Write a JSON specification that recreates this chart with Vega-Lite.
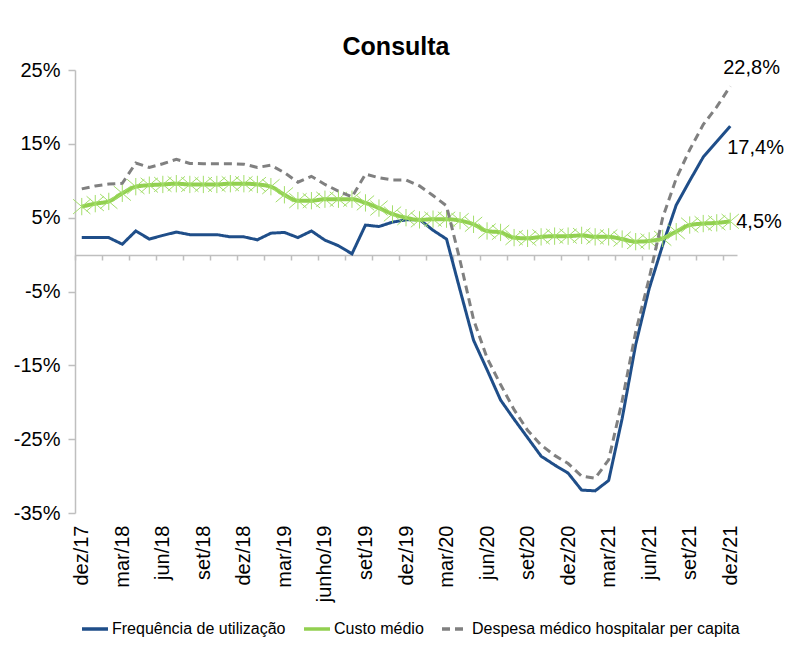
{
  "$schema": "https://vega.github.io/schema/vega-lite/v6.json",
  "autosize": {"type": "none"},
  "width": 662,
  "height": 443,
  "padding": {"left": 75, "top": 70, "right": 48, "bottom": 133},
  "background": "white",
  "config": {
    "font": "Liberation Sans",
    "view": {"stroke": null},
    "axis": {"grid": false}
  },
  "title": {
    "text": "Consulta",
    "font": "Liberation Sans",
    "fontSize": 25,
    "fontWeight": "bold",
    "color": "#000000",
    "anchor": "middle",
    "frame": "group",
    "dx": -10,
    "offset": -2
  },
  "datasets": {
    "freq": [
      {"m":0,"v":2.3},{"m":1,"v":2.3},{"m":2,"v":2.3},{"m":3,"v":1.4},{"m":4,"v":3.2},{"m":5,"v":2.1},{"m":6,"v":2.6},
      {"m":7,"v":3.05},{"m":8,"v":2.7},{"m":9,"v":2.7},{"m":10,"v":2.7},{"m":11,"v":2.4},{"m":12,"v":2.4},{"m":13,"v":2.0},
      {"m":14,"v":2.9},{"m":15,"v":3.0},{"m":16,"v":2.3},{"m":17,"v":3.2},{"m":18,"v":1.95},{"m":19,"v":1.2},{"m":20,"v":0.1},
      {"m":21,"v":4.0},{"m":22,"v":3.8},{"m":23,"v":4.4},{"m":24,"v":4.7},{"m":25,"v":4.75},{"m":26,"v":3.3},{"m":27,"v":2.1},
      {"m":28,"v":-4.8},{"m":29,"v":-11.6},{"m":30,"v":-15.6},{"m":31,"v":-19.7},{"m":32,"v":-22.3},{"m":33,"v":-24.8},{"m":34,"v":-27.3},
      {"m":35,"v":-28.5},{"m":36,"v":-29.6},{"m":37,"v":-31.9},{"m":38,"v":-32.0},{"m":39,"v":-30.6},{"m":40,"v":-22.2},{"m":41,"v":-12.2},
      {"m":42,"v":-4.6},{"m":43,"v":1.3},{"m":44,"v":6.7},{"m":45,"v":10.0},{"m":46,"v":13.2},{"m":47,"v":15.3},{"m":48,"v":17.4}
    ],
    "custo": [
      {"m":0,"v":6.5},{"m":1,"v":6.9},{"m":2,"v":7.2},{"m":3,"v":8.3},{"m":4,"v":9.2},{"m":5,"v":9.4},{"m":6,"v":9.5},
      {"m":7,"v":9.6},{"m":8,"v":9.5},{"m":9,"v":9.5},{"m":10,"v":9.5},{"m":11,"v":9.6},{"m":12,"v":9.6},{"m":13,"v":9.5},
      {"m":14,"v":9.2},{"m":15,"v":8.1},{"m":16,"v":7.3},{"m":17,"v":7.3},{"m":18,"v":7.5},{"m":19,"v":7.5},{"m":20,"v":7.5},
      {"m":21,"v":7.0},{"m":22,"v":6.3},{"m":23,"v":5.5},{"m":24,"v":5.0},{"m":25,"v":4.7},{"m":26,"v":4.8},{"m":27,"v":4.8},
      {"m":28,"v":4.6},{"m":29,"v":4.1},{"m":30,"v":3.2},{"m":31,"v":3.0},{"m":32,"v":2.3},{"m":33,"v":2.2},{"m":34,"v":2.4},
      {"m":35,"v":2.5},{"m":36,"v":2.5},{"m":37,"v":2.6},{"m":38,"v":2.4},{"m":39,"v":2.4},{"m":40,"v":2.1},{"m":41,"v":1.75},
      {"m":42,"v":1.85},{"m":43,"v":2.2},{"m":44,"v":3.1},{"m":45,"v":4.0},{"m":46,"v":4.2},{"m":47,"v":4.3},{"m":48,"v":4.5}
    ],
    "desp": [
      {"m":0,"v":8.9},{"m":1,"v":9.3},{"m":2,"v":9.55},{"m":3,"v":9.65},{"m":4,"v":12.4},{"m":5,"v":11.8},{"m":6,"v":12.3},
      {"m":7,"v":12.9},{"m":8,"v":12.35},{"m":9,"v":12.3},{"m":10,"v":12.3},{"m":11,"v":12.3},{"m":12,"v":12.25},{"m":13,"v":11.8},
      {"m":14,"v":12.1},{"m":15,"v":11.1},{"m":16,"v":9.8},{"m":17,"v":10.6},{"m":18,"v":9.5},{"m":19,"v":8.6},{"m":20,"v":7.8},
      {"m":21,"v":10.9},{"m":22,"v":10.4},{"m":23,"v":10.1},{"m":24,"v":10.1},{"m":25,"v":9.3},{"m":26,"v":8.0},{"m":27,"v":6.6},
      {"m":28,"v":-0.8},{"m":29,"v":-8.8},{"m":30,"v":-14.0},{"m":31,"v":-17.6},{"m":32,"v":-21.0},{"m":33,"v":-23.8},{"m":34,"v":-25.8},
      {"m":35,"v":-27.2},{"m":36,"v":-28.3},{"m":37,"v":-30.0},{"m":38,"v":-30.3},{"m":39,"v":-27.8},{"m":40,"v":-19.8},{"m":41,"v":-10.5},
      {"m":42,"v":-3.2},{"m":43,"v":5.0},{"m":44,"v":10.3},{"m":45,"v":14.2},{"m":46,"v":17.6},{"m":47,"v":20.0},{"m":48,"v":22.8}
    ],
    "ends": [
      {"m":48,"v":22.8,"k":"d","t":"22,8%"},
      {"m":48,"v":17.4,"k":"f","t":"17,4%"},
      {"m":48,"v":4.5,"k":"c","t":"4,5%"}
    ]
  },
  "layer": [
    {
      "data": {"name": "freq"},
      "mark": {"type": "line", "strokeWidth": 3},
      "encoding": {
        "x": {
          "field": "m", "type": "quantitative",
          "scale": {"domain": [-0.5, 48.5], "nice": false, "zero": false},
          "axis": {
            "title": null, "orient": "bottom", "offset": -258,
            "values": [-0.5,1.5,3.5,5.5,7.5,9.5,11.5,13.5,15.5,17.5,19.5,21.5,23.5,25.5,27.5,29.5,31.5,33.5,35.5,37.5,39.5,41.5,43.5,45.5,47.5],
            "labels": false, "ticks": true, "tickSize": 5, "tickColor": "#BFBFBF", "tickWidth": 1.5,
            "domain": true, "domainColor": "#BFBFBF", "domainWidth": 1.5, "grid": false
          }
        },
        "y": {
          "field": "v", "type": "quantitative",
          "scale": {"domain": [-35, 25], "nice": false, "zero": false},
          "axis": {
            "title": null,
            "values": [-35,-25,-15,-5,5,15,25],
            "labelExpr": "datum.value + '%'",
            "labelFont": "Liberation Sans", "labelFontSize": 20, "labelColor": "#000000",
            "labelPadding": 8, "tickSize": 7, "tickColor": "#BFBFBF", "tickWidth": 1.5,
            "domainColor": "#BFBFBF", "domainWidth": 1.5, "grid": false
          }
        },
        "color": {
          "datum": "Frequência de utilização",
          "scale": {
            "domain": ["Frequência de utilização", "Custo médio", "Despesa médico hospitalar per capita"],
            "range": ["#1F4E89", "#92D050", "#808080"]
          },
          "legend": {
            "title": null, "orient": "none", "legendX": 5, "legendY": 544, "direction": "horizontal",
            "symbolType": "stroke", "symbolSize": 676, "symbolStrokeWidth": 3.5,
            "labelFont": "Liberation Sans", "labelFontSize": 16, "labelColor": "#000000",
            "labelOffset": 2, "columnPadding": 11, "labelLimit": 400
          }
        },
        "strokeDash": {
          "datum": "Frequência de utilização",
          "scale": {
            "domain": ["Frequência de utilização", "Custo médio", "Despesa médico hospitalar per capita"],
            "range": [[1, 0], [1, 0], [8, 5]]
          },
          "legend": {
            "title": null, "orient": "none", "legendX": 5, "legendY": 544, "direction": "horizontal",
            "symbolType": "stroke", "symbolSize": 676, "symbolStrokeWidth": 3.5,
            "labelFont": "Liberation Sans", "labelFontSize": 16, "labelColor": "#000000",
            "labelOffset": 2, "columnPadding": 11, "labelLimit": 400
          }
        }
      }
    },
    {
      "data": {"name": "custo"},
      "mark": {"type": "line", "strokeWidth": 4, "interpolate": "monotone"},
      "encoding": {
        "x": {
          "field": "m", "type": "quantitative",
          "axis": {
            "title": null, "orient": "bottom", "offset": 0,
            "values": [0,3,6,9,12,15,18,21,24,27,30,33,36,39,42,45,48],
            "labelExpr": "['dez/17','mar/18','jun/18','set/18','dez/18','mar/19','junho/19','set/19','dez/19','mar/20','jun/20','set/20','dez/20','mar/21','jun/21','set/21','dez/21'][round(datum.value/3)]",
            "labelAngle": 270, "labelAlign": "right", "labelBaseline": "middle",
            "labelFont": "Liberation Sans", "labelFontSize": 20, "labelColor": "#000000",
            "labelPadding": 12, "ticks": false, "tickSize": 0, "domain": false, "grid": false, "labelOverlap": false
          }
        },
        "y": {"field": "v", "type": "quantitative"},
        "color": {"datum": "Custo médio"},
        "strokeDash": {"datum": "Custo médio"}
      }
    },
    {
      "data": {"name": "custo"},
      "mark": {
        "type": "point", "filled": false, "strokeWidth": 1, "color": "#A3DE6A", "opacity": 1,
        "shape": "M0,-1L0,1M-1,-0.85L1,0.85M-1,0.85L1,-0.85", "size": 300
      },
      "encoding": {
        "x": {"field": "m", "type": "quantitative", "axis": null},
        "y": {"field": "v", "type": "quantitative"}
      }
    },
    {
      "data": {"name": "desp"},
      "mark": {"type": "line", "strokeWidth": 3},
      "encoding": {
        "x": {"field": "m", "type": "quantitative", "axis": null},
        "y": {"field": "v", "type": "quantitative"},
        "color": {"datum": "Despesa médico hospitalar per capita"},
        "strokeDash": {"datum": "Despesa médico hospitalar per capita"}
      }
    },
    {
      "data": {"name": "ends"},
      "transform": [{"filter": "datum.k == 'd'"}],
      "mark": {"type": "text", "align": "left", "baseline": "middle", "dx": -7, "dy": -18, "fontSize": 20, "font": "Liberation Sans", "color": "#000000"},
      "encoding": {
        "x": {"field": "m", "type": "quantitative", "axis": null},
        "y": {"field": "v", "type": "quantitative"},
        "text": {"field": "t"}
      }
    },
    {
      "data": {"name": "ends"},
      "transform": [{"filter": "datum.k == 'f'"}],
      "mark": {"type": "text", "align": "left", "baseline": "middle", "dx": -3, "dy": 22, "fontSize": 20, "font": "Liberation Sans", "color": "#000000"},
      "encoding": {
        "x": {"field": "m", "type": "quantitative", "axis": null},
        "y": {"field": "v", "type": "quantitative"},
        "text": {"field": "t"}
      }
    },
    {
      "data": {"name": "ends"},
      "transform": [{"filter": "datum.k == 'c'"}],
      "mark": {"type": "text", "align": "left", "baseline": "middle", "dx": 6, "dy": 1, "fontSize": 20, "font": "Liberation Sans", "color": "#000000"},
      "encoding": {
        "x": {"field": "m", "type": "quantitative", "axis": null},
        "y": {"field": "v", "type": "quantitative"},
        "text": {"field": "t"}
      }
    }
  ],
  "resolve": {"axis": {"x": "independent"}}
}
